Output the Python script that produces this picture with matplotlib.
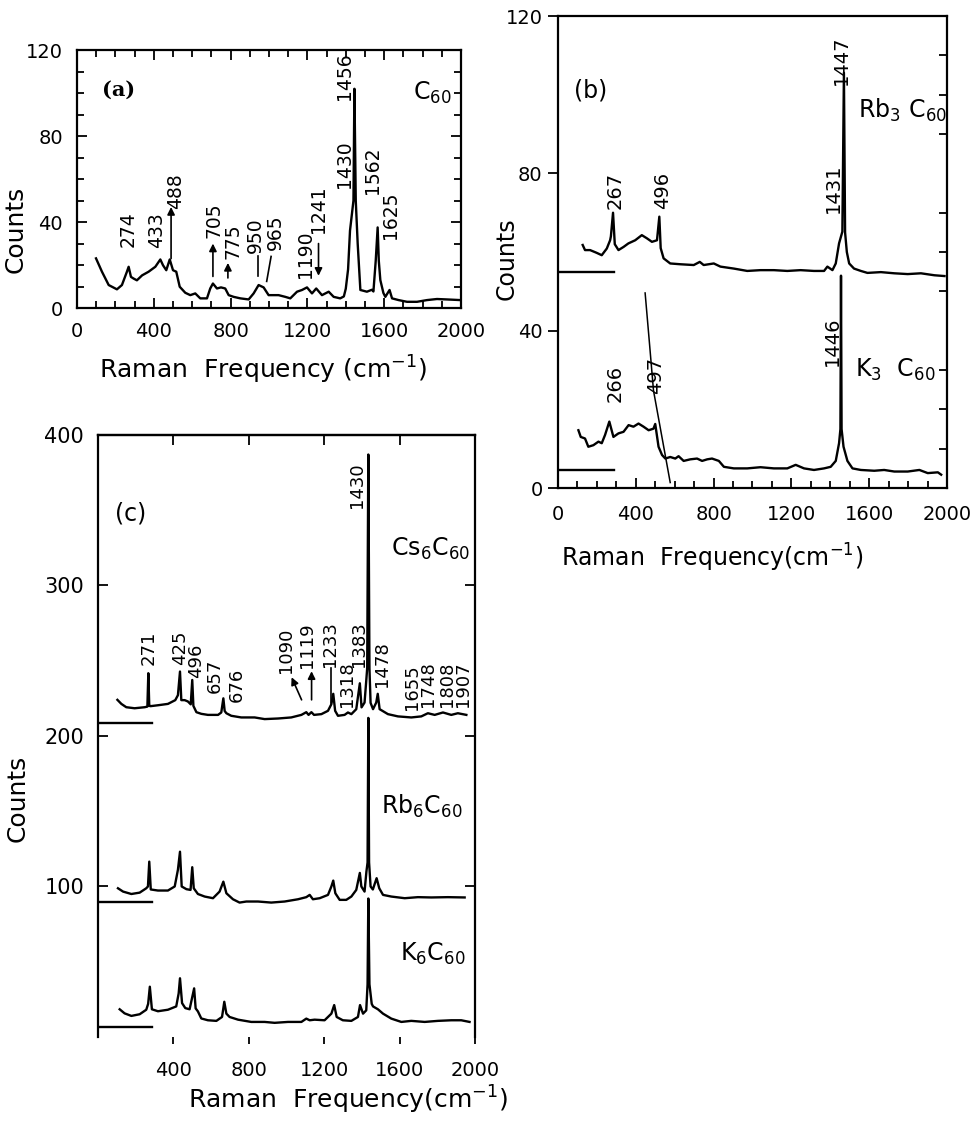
import matplotlib
matplotlib.use('Agg')
import matplotlib.pyplot as plt
from matplotlib.ticker import MultipleLocator, FixedLocator

plt.rcParams['font.family'] = ['DejaVu Sans']
plt.rcParams['mathtext.default'] = 'regular'

# ---------------- Panel (a): C60 ----------------
a_freq = [99, 130, 165, 208, 234, 260, 269, 281, 295, 312, 339, 373, 408, 434, 448, 465, 483, 500,
          517, 535, 564, 590, 616, 642, 677, 694, 708, 729, 750, 772, 790, 816, 851, 894, 920, 946,
          972, 998, 1024, 1050, 1085, 1111, 1146, 1172, 1198, 1224, 1246, 1276, 1311, 1337, 1371,
          1390, 1400, 1412, 1422, 1440, 1445, 1452, 1462, 1476, 1510, 1536, 1544, 1556, 1566, 1572,
          1580, 1596, 1606, 1628, 1641, 1675, 1719, 1771, 1823, 1875, 1927, 1996]
a_counts = [23.1, 16.9, 10.7, 8.7, 10.7, 16.9, 19.2, 14.5, 13.7, 12.9, 15.2, 16.9, 19.2, 22.6, 19.9,
            17.6, 22.6, 17.6, 16.9, 9.9, 7.1, 6.0, 6.8, 4.5, 4.5, 9.1, 11.4, 9.1, 9.6, 9.1, 6.0, 5.2,
            4.5, 4.0, 6.8, 10.7, 9.6, 6.0, 6.0, 6.0, 5.2, 4.5, 7.6, 8.4, 9.6, 6.8, 9.1, 6.0, 7.6, 5.2,
            4.5, 5.4, 9.0, 18.0, 36.0, 50.0, 102.0, 50.0, 30.0, 8.4, 7.6, 8.5, 7.7, 22.0, 37.5, 22.0,
            13.0, 7.0, 5.2, 8.4, 4.5, 3.7, 2.9, 2.9, 3.7, 4.2, 4.0, 3.7]
a_labels = ['274', '433', '488', '705', '775', '950', '965', '1190', '1241', '1430', '1456', '1562', '1625']

# ---------------- Panel (b): Rb3C60 and K3C60 ----------------
rb3_freq = [127, 139, 165, 199, 225, 251, 268, 272, 283, 292, 311, 337, 362, 397, 431, 457, 483, 509,
            521, 528, 543, 577, 629, 698, 729, 749, 801, 835, 904, 973, 1041, 1110, 1179, 1247, 1316,
            1368, 1385, 1411, 1428, 1445, 1462, 1470, 1476, 1485, 1497, 1522, 1557, 1591, 1660, 1729,
            1798, 1866, 1935, 1987]
rb3_counts = [61.8, 60.5, 60.5, 59.8, 59.2, 60.9, 63.0, 64.0, 70.0, 62.0, 60.5, 61.3, 62.2, 63.0,
              64.3, 63.5, 62.6, 63.0, 69.0, 61.0, 58.4, 57.1, 56.9, 56.7, 57.5, 56.7, 57.1, 56.3, 55.8,
              55.2, 55.4, 55.4, 55.2, 55.4, 55.2, 55.2, 56.3, 55.4, 57.1, 62.2, 65.2, 105.6, 65.0,
              60.0, 57.1, 55.8, 55.2, 54.7, 54.9, 54.6, 54.4, 54.6, 54.1, 53.9]
k3_freq = [105, 117, 139, 156, 182, 208, 225, 242, 264, 285, 311, 337, 363, 388, 414, 440, 466, 491,
           500, 517, 535, 552, 577, 603, 620, 646, 680, 715, 741, 767, 792, 827, 853, 904, 973, 1041,
           1110, 1179, 1222, 1265, 1316, 1368, 1402, 1428, 1445, 1452, 1455, 1458, 1468, 1488, 1514,
           1557, 1626, 1677, 1729, 1798, 1858, 1901, 1953, 1970]
k3_counts = [14.7, 13.0, 12.6, 10.5, 10.9, 11.8, 11.4, 13.5, 16.9, 13.0, 13.9, 14.3, 16.0, 15.6,
             16.4, 15.6, 14.7, 15.1, 16.3, 10.5, 8.4, 7.5, 7.9, 7.5, 8.1, 6.9, 7.3, 7.5, 6.9, 7.3,
             7.5, 6.9, 5.4, 5.0, 5.0, 5.3, 5.0, 5.0, 5.9, 5.0, 4.6, 5.0, 5.4, 6.9, 11.4, 15.0, 54.0,
             15.0, 10.5, 6.9, 5.0, 4.6, 4.4, 4.6, 4.2, 4.2, 4.6, 3.8, 4.0, 3.4]
rb3_labels = ['267', '496', '1431', '1447']
k3_labels = ['266', '497', '1446']
b_zero_levels = [55.0, 4.7]
b_slash_x = [448, 470, 491, 577]
b_slash_y = [49.6, 37.0, 24.8, 1.4]

# ---------------- Panel (c): Cs6C60, Rb6C60, K6C60 ----------------
cs6_freq = [103, 124, 150, 194, 248, 262, 267, 272, 279, 318, 371, 410, 424, 435, 442, 460, 477, 492,
            500, 506, 522, 548, 583, 637, 654, 665, 672, 681, 707, 760, 831, 884, 955, 1025, 1079,
            1105, 1117, 1132, 1146, 1185, 1220, 1238, 1248, 1258, 1273, 1308, 1326, 1344, 1370, 1389,
            1398, 1414, 1422, 1428, 1434, 1440, 1446, 1459, 1476, 1484, 1494, 1538, 1591, 1662, 1715,
            1750, 1786, 1830, 1874, 1909, 1954]
cs6_counts = [224.0, 221.3, 219.1, 218.4, 219.1, 219.5, 241.7, 220.0, 219.8, 220.4, 221.3, 223.8,
              227.1, 242.8, 223.8, 223.8, 222.9, 221.0, 237.2, 220.0, 215.8, 214.7, 214.0, 214.0,
              215.6, 225.0, 216.6, 215.1, 213.4, 212.3, 212.3, 211.2, 211.6, 212.3, 214.0, 215.8,
              214.0, 215.8, 214.0, 214.5, 216.7, 221.1, 228.0, 216.7, 213.4, 214.0, 215.6, 214.5,
              217.8, 235.0, 219.0, 222.2, 235.0, 245.0, 387.0, 245.0, 222.0, 217.8, 222.2, 228.0,
              217.8, 214.5, 213.0, 212.3, 213.0, 215.1, 214.0, 215.6, 214.0, 215.1, 214.0]
rb6_freq = [106, 133, 177, 221, 256, 265, 272, 280, 318, 371, 407, 424, 435, 444, 469, 491, 500, 508,
            530, 566, 610, 645, 665, 681, 716, 751, 787, 849, 919, 990, 1061, 1105, 1123, 1140, 1176,
            1220, 1238, 1248, 1259, 1282, 1317, 1344, 1370, 1389, 1397, 1414, 1424, 1430, 1434, 1438,
            1446, 1458, 1478, 1492, 1512, 1556, 1627, 1697, 1768, 1856, 1945]
rb6_counts = [98.8, 96.6, 95.0, 95.9, 98.8, 100.0, 116.5, 98.0, 97.3, 97.3, 100.0, 111.1, 123.1,
              100.0, 98.2, 97.7, 112.8, 98.8, 95.0, 93.3, 92.2, 96.6, 103.2, 95.5, 91.5, 89.3, 90.0,
              90.0, 89.3, 90.0, 91.5, 92.9, 94.4, 91.5, 92.2, 94.4, 100.0, 103.9, 95.5, 91.1, 91.1,
              93.3, 97.7, 109.0, 100.0, 96.6, 110.0, 116.0, 212.0, 116.0, 100.0, 98.0, 105.5, 98.8,
              94.4, 93.3, 92.2, 92.9, 92.7, 92.9, 92.7]
k6_freq = [115, 141, 177, 221, 256, 266, 275, 286, 318, 371, 415, 428, 435, 446, 463, 486, 510, 518,
           530, 548, 583, 628, 658, 670, 681, 698, 743, 813, 884, 937, 1008, 1079, 1105, 1123, 1149,
           1202, 1238, 1253, 1266, 1299, 1344, 1379, 1390, 1406, 1423, 1430, 1434, 1440, 1452, 1459,
           1485, 1512, 1556, 1609, 1662, 1733, 1803, 1874, 1927, 1971]
k6_counts = [18.4, 15.7, 14.0, 15.1, 18.1, 22.0, 33.4, 18.4, 17.1, 18.1, 20.3, 29.0, 39.0, 22.5,
             19.2, 18.4, 32.3, 19.0, 17.0, 12.3, 11.1, 10.7, 13.3, 23.4, 15.5, 13.3, 11.5, 10.0, 10.0,
             9.4, 10.0, 10.0, 12.2, 11.1, 11.5, 11.1, 15.5, 21.2, 13.3, 11.1, 10.7, 13.3, 21.2, 15.5,
             17.7, 35.0, 92.0, 35.0, 22.0, 20.3, 18.4, 15.5, 12.2, 10.0, 10.7, 10.0, 10.7, 11.1, 11.1,
             10.0]
cs6_labels = ['271', '425', '496', '657', '676', '1090', '1119', '1233', '1318', '1383', '1430',
              '1478', '1655', '1748', '1808', '1907']
c_zero_levels = [208.5, 89.5, 6.9]

# ---------------- figure ----------------
LW = 1.7
fig = plt.figure(figsize=(9.76, 11.23), dpi=100)
axA = fig.add_axes([0.0789, 0.7257, 0.3934, 0.2297])
axB = fig.add_axes([0.5717, 0.5654, 0.3986, 0.4203])
axC = fig.add_axes([0.1004, 0.0766, 0.3863, 0.5361])

for ax in (axA, axB, axC):
    for s in ax.spines.values():
        s.set_linewidth(1.6)
    ax.set_xlim(0, 2000)


def vlabel(ax, x, y, s, fs):
    ax.text(x, y, s, rotation=90, ha='center', va='bottom', fontsize=fs)


def arrow(ax, x0, y0, x1, y1):
    ax.annotate('', xy=(x1, y1), xytext=(x0, y0),
                arrowprops=dict(arrowstyle='-|>', lw=1.2, color='k', mutation_scale=11,
                                shrinkA=0, shrinkB=0))


# ---- (a)
axA.plot(a_freq, a_counts, color='k', lw=LW)
axA.set_ylim(0, 120)
axA.xaxis.set_major_locator(MultipleLocator(400))
axA.xaxis.set_minor_locator(MultipleLocator(100))
axA.yaxis.set_major_locator(MultipleLocator(40))
axA.yaxis.set_minor_locator(MultipleLocator(10))
axA.tick_params(which='both', direction='in', top=True, right=True, width=1.3, labelsize=14)
axA.tick_params(which='major', length=7, pad=10)
axA.tick_params(which='minor', length=5)
a_pos = [(266, 28.6), (415, 28), (515, 46), (711, 32.5), (810, 23), (928, 25.5), (1032, 27),
         (1188, 14), (1256, 35), (1391, 56), (1391, 97), (1538, 53), (1634, 32)]
for s, (x, y) in zip(a_labels, a_pos):
    vlabel(axA, x, y, s, 13.5)
arrow(axA, 490, 23, 490, 47)
arrow(axA, 708, 14.7, 708, 30)
arrow(axA, 786, 14, 786, 21)
arrow(axA, 1258, 30, 1258, 15)
axA.plot([942, 942], [14.7, 24], color='k', lw=1.2)
axA.plot([988, 1011], [12.4, 24], color='k', lw=1.2)
axA.text(130, 101.5, '(a)', fontsize=15, fontweight='bold', family='DejaVu Serif', va='center')
axA.text(1750, 100, 'C$_{60}$', fontsize=17, va='center')

# ---- (b)
axB.plot(rb3_freq, rb3_counts, color='k', lw=LW)
axB.plot(k3_freq, k3_counts, color='k', lw=LW)
for z in b_zero_levels:
    axB.plot([0, 290], [z, z], color='k', lw=LW)
axB.plot(b_slash_x, b_slash_y, color='k', lw=1.1)
axB.set_ylim(0, 120)
axB.xaxis.set_major_locator(MultipleLocator(400))
axB.xaxis.set_minor_locator(MultipleLocator(100))
axB.yaxis.set_major_locator(MultipleLocator(40))
axB.yaxis.set_minor_locator(MultipleLocator(10))
axB.tick_params(axis='x', which='both', direction='in', top=False, width=1.3, labelsize=14, pad=12)
axB.tick_params(axis='x', which='major', length=7)
axB.tick_params(axis='x', which='minor', length=5)
axB.tick_params(axis='y', which='major', direction='out', length=7, width=1.3, labelsize=14,
                right=False, pad=4)
axB.tick_params(axis='y', which='minor', left=False, right=True, direction='in', length=6,
                width=1.3)
b_pos = [(296, 71), (539, 71), (1415, 70), (1456, 102.5)]
for s, (x, y) in zip(rb3_labels, b_pos):
    vlabel(axB, x, y, s, 14)
bk_pos = [(294, 22), (502, 24), (1411, 31)]
for s, (x, y) in zip(k3_labels, bk_pos):
    vlabel(axB, x, y, s, 14)
axB.text(167, 101, '(b)', fontsize=17, ha='center', va='center')
axB.text(1540, 96, 'Rb$_3$ C$_{60}$', fontsize=17, va='center')
axB.text(1525, 30, 'K$_3$  C$_{60}$', fontsize=17, va='center')

# ---- (c)
axC.plot(cs6_freq, cs6_counts, color='k', lw=LW)
axC.plot(rb6_freq, rb6_counts, color='k', lw=LW)
axC.plot(k6_freq, k6_counts, color='k', lw=LW)
for z in c_zero_levels:
    axC.plot([0, 285], [z, z], color='k', lw=LW)
axC.set_ylim(0, 400)
axC.spines['bottom'].set_visible(False)
axC.xaxis.set_major_locator(FixedLocator([400, 800, 1200, 1600, 2000]))
axC.yaxis.set_major_locator(FixedLocator([100, 200, 300, 400]))
axC.tick_params(axis='x', direction='out', length=5, width=1.3, labelsize=14, pad=12, top=False)
axC.tick_params(axis='y', direction='in', length=7, width=1.3, labelsize=15, right=True, pad=10)
topC = axC.secondary_xaxis('top')
topC.xaxis.set_major_locator(FixedLocator([400, 800, 1200, 1600]))
topC.tick_params(direction='in', length=7, width=1.3, labeltop=False)
topC.spines['top'].set_linewidth(1.6)
c_pos = [(271, 247), (435, 247), (522, 238.5), (621, 228.6), (736, 222.8), (996, 241.7),
         (1110, 245), (1231, 246), (1319, 219.5), (1385, 246), (1372, 351.5), (1508, 232.8),
         (1664, 217.3), (1752, 219.5), (1850, 219.5), (1938, 219.5)]
for s, (x, y) in zip(cs6_labels, c_pos):
    vlabel(axC, x, y, s, 13)
arrow(axC, 1080, 224, 1027, 239)
arrow(axC, 1133, 224, 1133, 243)
axC.plot([1236, 1236], [221.7, 245], color='k', lw=1.2)
axC.text(175, 348, '(c)', fontsize=17, ha='center', va='center')
axC.text(1555, 324, 'Cs$_6$C$_{60}$', fontsize=17, va='center')
axC.text(1500, 153, 'Rb$_6$C$_{60}$', fontsize=17, va='center')
axC.text(1600, 55, 'K$_6$C$_{60}$', fontsize=17, va='center')

# axis titles
fig.text(0.2695, 0.6705, 'Raman  Frequency (cm$^{-1}$)', fontsize=18, ha='center', va='center')
fig.text(0.0164, 0.796, 'Counts', fontsize=18, rotation=90, ha='center', va='center')
fig.text(0.7295, 0.503, 'Raman  Frequency(cm$^{-1}$)', fontsize=17, ha='center', va='center')
fig.text(0.5195, 0.7694, 'Counts', fontsize=17, rotation=90, ha='center', va='center')
fig.text(0.3566, 0.0205, 'Raman  Frequency(cm$^{-1}$)', fontsize=18, ha='center', va='center')
fig.text(0.0184, 0.2894, 'Counts', fontsize=18, rotation=90, ha='center', va='center')

fig.savefig('out.png', dpi=100)
